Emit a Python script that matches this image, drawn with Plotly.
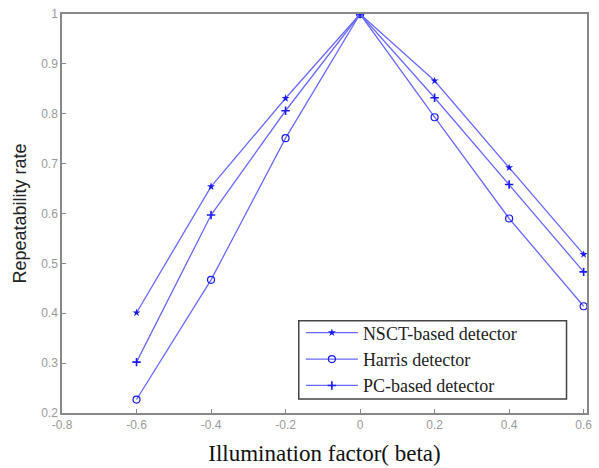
import plotly.graph_objects as go

beta = [-0.6, -0.4, -0.2, 0, 0.2, 0.4, 0.6]
nsct = [0.401, 0.654, 0.831, 1.0, 0.866, 0.692, 0.518]
harris = [0.227, 0.467, 0.751, 1.0, 0.793, 0.590, 0.414]
pc = [0.302, 0.597, 0.806, 1.0, 0.832, 0.658, 0.483]

line_col = "rgb(105,105,255)"
mark_col = "rgb(25,25,235)"

fig = go.Figure()
fig.add_trace(go.Scatter(x=beta, y=nsct, mode="lines+markers", name="NSCT-based detector",
                         line=dict(color=line_col, width=1.3),
                         marker=dict(symbol="star", size=6, color=mark_col)))
fig.add_trace(go.Scatter(x=beta, y=harris, mode="lines+markers", name="Harris detector",
                         line=dict(color=line_col, width=1.3),
                         marker=dict(symbol="circle-open", size=7, color=mark_col, line=dict(width=1.2))))
fig.add_trace(go.Scatter(x=beta, y=pc, mode="lines+markers", name="PC-based detector",
                         line=dict(color=line_col, width=1.3),
                         marker=dict(symbol="cross-thin-open", size=6, color=mark_col, line=dict(width=1.6))))

fig.update_layout(
    width=599, height=468,
    margin=dict(l=62, r=12, t=14, b=55),
    paper_bgcolor="white", plot_bgcolor="white",
    showlegend=True,
    legend=dict(x=0.455, y=0.247, xanchor="left", yanchor="top",
                borderwidth=0, bgcolor="rgba(0,0,0,0)",
                font=dict(family="Liberation Serif", size=18, color="#222"),
                tracegroupgap=0, itemwidth=52),
    shapes=[dict(type="rect", xref="paper", yref="paper",
                 x0=0.451, x1=0.961, y0=0.035, y1=0.231,
                 line=dict(color="#444", width=1.5), fillcolor="white", layer="below")],
)
fig.update_xaxes(range=[-0.8, 0.609], tickvals=[-0.8, -0.6, -0.4, -0.2, 0, 0.2, 0.4, 0.6],
                 ticktext=["-0.8", "-0.6", "-0.4", "-0.2", "0", "0.2", "0.4", "0.6"],
                 automargin=False,
                 showgrid=False, zeroline=False, showline=True, linecolor="#888", linewidth=1.5,
                 mirror=True, ticks="inside", ticklen=4, tickcolor="#888",
                 tickfont=dict(family="Liberation Sans", size=12, color="#999"),
                 title=dict(text="Illumination factor( beta)", standoff=14,
                            font=dict(family="Liberation Serif", size=23, color="#111")))
fig.update_yaxes(range=[0.2, 1.0], tickvals=[0.2, 0.3, 0.4, 0.5, 0.6, 0.7, 0.8, 0.9, 1.0],
                 ticktext=["0.2", "0.3", "0.4", "0.5", "0.6", "0.7", "0.8", "0.9", "1"],
                 automargin=False,
                 showgrid=False, zeroline=False, showline=True, linecolor="#888", linewidth=1.5,
                 mirror=True, ticks="inside", ticklen=4, tickcolor="#888",
                 tickfont=dict(family="Liberation Sans", size=12, color="#999"),
                 title=dict(text="Repeatability rate", standoff=10,
                            font=dict(family="Liberation Sans", size=18, color="#222")))

fig.write_html("out.html", config={"displayModeBar": False},
               post_script="document.body.style.margin='0px';")
